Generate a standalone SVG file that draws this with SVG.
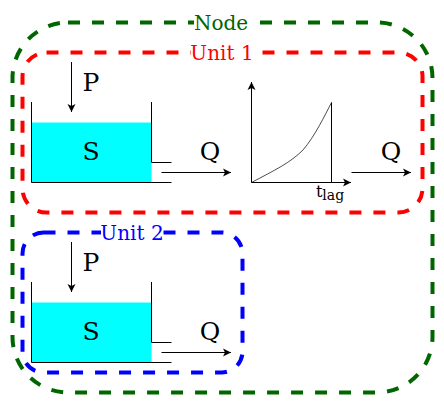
<svg xmlns="http://www.w3.org/2000/svg" width="444" height="404" viewBox="0 0 444 404">
<style>
.box{fill:none;stroke-width:4;stroke-dasharray:12 12}
.ln{fill:none;stroke:#000;stroke-width:1}
.ar{fill:none;stroke:#000;stroke-width:1;marker-end:url(#a)}
text{font-family:"DejaVu Serif",serif;text-anchor:middle}
.b{font-size:25px;fill:#000}
.t{font-size:20px}
.bg{fill:#fff}
</style>
<defs><marker id="a" markerUnits="userSpaceOnUse" markerWidth="10" markerHeight="10" refX="8" refY="4" orient="auto" viewBox="0 0 10 8"><path d="M0 0L8 4L0 8L2 4Z" fill="#000"/></marker></defs>
<rect width="444" height="404" fill="#fff"/>
<g id="node"><rect class="box" x="12.5" y="22.5" width="420" height="370" rx="55.5" stroke="#006600"/><rect class="bg" x="194" y="14" width="56" height="20"/><text class="t" x="221" y="30" fill="#006600">Node</text></g>
<g id="unit1"><rect class="box" x="22.5" y="52.5" width="400" height="160" rx="24" stroke="#ff0000"/><rect class="bg" x="191" y="44" width="62" height="20"/><text class="t" x="222" y="60" fill="#ff0000">Unit 1</text></g>
<g id="unit2"><rect class="box" x="22.5" y="232.5" width="220" height="140" rx="21" stroke="#0000ff"/><rect class="bg" x="101" y="224" width="62" height="20"/><text class="t" x="132" y="240" fill="#0000ff">Unit 2</text></g>
<g id="tank1"><rect x="31.5" y="122.5" width="120" height="60" fill="#00ffff"/><path class="ln" d="M31.5 102V182.5H171.5M151.5 102V162.5H171.5"/><text class="b" x="91" y="160">S</text></g>
<g id="tank2"><rect x="31.5" y="302.5" width="120" height="60" fill="#00ffff"/><path class="ln" d="M31.5 282V362.5H171.5M151.5 282V342.5H171.5"/><text class="b" x="91" y="340">S</text></g>
<g id="chart"><path class="ln" stroke-width=".7" style="stroke-width:.7" d="M251.5 182.5C275 170 290 163 303 150C315 136 325 115 331.5 102.5"/><path class="ln" d="M331.5 102.5V182.5"/><text x="330" y="197" font-size="16">t<tspan font-size="14" dy="3">lag</tspan></text></g>
<g id="connectors">
<path class="ar" d="M71.5 62V112"/><path class="ar" d="M161.5 172.5H231"/><path class="ar" d="M251.5 182.5V82"/><path class="ar" d="M251.5 182.5H351"/><path class="ar" d="M351.5 172.5H411"/><path class="ar" d="M71.5 242V292"/><path class="ar" d="M161.5 352.5H231"/>
</g>
<g id="labels"><text class="b" x="91" y="91">P</text><text class="b" x="210" y="160">Q</text><text class="b" x="391" y="160">Q</text><text class="b" x="91" y="271">P</text><text class="b" x="210" y="340">Q</text></g>
</svg>
